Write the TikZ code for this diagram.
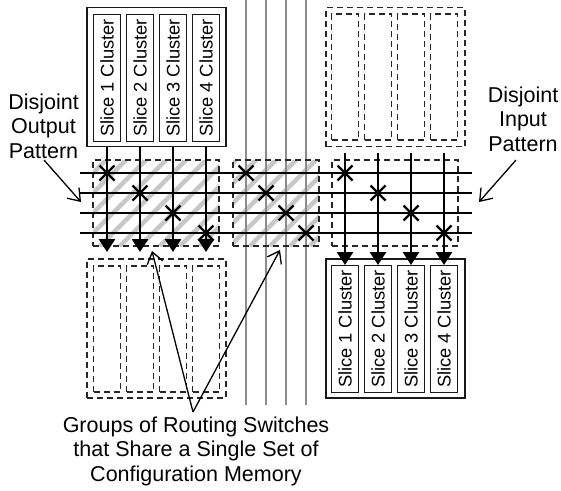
\documentclass[tikz,border=0pt]{standalone}
\usepackage{fontspec}
\setmainfont{Liberation Sans}
\usetikzlibrary{shapes.misc,arrows.meta}
\tikzset{
  every node/.style={inner sep=0pt,outer sep=0pt},
  outerbox/.style={draw=black!90,line width=1.4pt,minimum width=139pt,minimum height=139pt},
  outerdash/.style={draw=black!85,line width=1.3pt,dash pattern=on 6pt off 4pt,minimum width=139pt,minimum height=139pt},
  slicebox/.style={draw=black!90,line width=1.4pt,minimum width=27pt,minimum height=127pt,font=\fontsize{18.3}{20}\selectfont},
  slicedash/.style={draw=black!85,line width=1.3pt,dash pattern=on 6pt off 4pt,minimum width=27pt,minimum height=126pt},
  groupbox/.style={draw=black!85,line width=1.3pt,dash pattern=on 6pt off 4pt,minimum height=86pt},
  sw/.style={cross out,draw=black,line width=2.4pt,minimum size=15pt},
  wire/.style={line width=2pt,black},
  bus/.style={line width=2.8pt,black,-{Triangle[length=13pt,width=16pt]}},
  track/.style={line width=1.3pt,black!45},
  stripe/.style={line width=4.5pt,black!22},
  lbl/.style={font=\fontsize{21.5}{24.5}\selectfont,align=center},
  callout/.style={line width=1.3pt,black,-{Straight Barb[length=11pt,width=16pt]}},
}
\begin{document}
\begin{tikzpicture}[x=1pt,y=-1pt]
\useasboundingbox (0,0) rectangle (561,490);
% stripes
\begin{scope}
\clip (93,160) rectangle (219,246);
\foreach \i in {0,...,12} \draw[stripe] (20+\i*20,246) -- ++(86,-86);
\end{scope}
\begin{scope}
\clip (233,160) rectangle (319,246);
\foreach \i in {0,...,9} \draw[stripe] (150+\i*20,246) -- ++(86,-86);
\end{scope}
% tracks
\foreach \n/\x in {a/246,b/266,c/286,d/306}{
  \coordinate (t\n) at (\x,0);
  \coordinate (u\n) at (\x,405);
  \draw[track] (t\n) -- (u\n);
}
% group boxes
\node[groupbox,minimum width=126pt] (g1) at (156,203) {};
\node[groupbox,minimum width=86pt] (g2) at (276,203) {};
\node[groupbox,minimum width=126pt] (g3) at (395,203) {};
% cluster blocks
\node[outerbox] (A) at (156.5,77) {};
\node[outerdash] (B) at (395.5,77) {};
\node[outerdash] (C) at (156.5,328.5) {};
\node[outerbox] (D) at (395.5,328.5) {};
\foreach \n/\x/\s in {1/107/1,2/140/2,3/173/3,4/206/4}{
  \node[slicebox] (as\n) at (\x,78) {\rotatebox{90}{Slice \s\ Cluster}};
  \node[slicedash] (cs\n) at (\x,329) {};
}
\foreach \n/\x/\s in {1/345/1,2/378/2,3/411/3,4/444/4}{
  \node[slicedash] (bs\n) at (\x,77) {};
  \node[slicebox] (ds\n) at (\x,329) {\rotatebox{90}{Slice \s\ Cluster}};
}
% wires
\foreach \n/\y in {1/173,2/193,3/213,4/233}{
  \coordinate (wl\n) at (80,\y);
  \coordinate (wr\n) at (472,\y);
  \draw[wire] (wl\n) -- (wr\n);
}
\foreach \n in {1,2,3,4}{
  \coordinate (ae\n) at (as\n.south |- 0,252);
  \draw[bus] (as\n.south |- A.south) -- (ae\n);
  \coordinate (bb\n) at (bs\n.south |- 0,153);
  \draw[bus] (bb\n) -- (ds\n.north |- 0,265);
}
% switches
\foreach \n/\x/\y in {1/107/173,2/140/193,3/173/213,4/206/233,5/246/173,6/266/193,7/286/213,8/306/233,9/345/173,10/378/193,11/411/213,12/444/233}{
  \node[sw] (x\n) at (\x,\y) {};
}
% labels
\node[lbl] (L) at (43.5,126) {Disjoint\\Output\\Pattern};
\node[lbl] (R) at (523,119) {Disjoint\\Input\\Pattern};
\node[lbl] (G) at (196,451) {Groups of Routing Switches\\that Share a Single Set of\\Configuration Memory};
\coordinate (c1) at (44,160);
\coordinate (c2) at (81,202);
\coordinate (c3) at (516,160);
\coordinate (c4) at (479,202);
\coordinate (c5) at (193,412);
\coordinate (c6) at (152,251);
\coordinate (c8) at (280,250);
\draw[callout] (c1) -- (c2);
\draw[callout] (c3) -- (c4);
\draw[callout] (c5) -- (c6);
\draw[callout] (c5) -- (c8);
\end{tikzpicture}
\end{document}
